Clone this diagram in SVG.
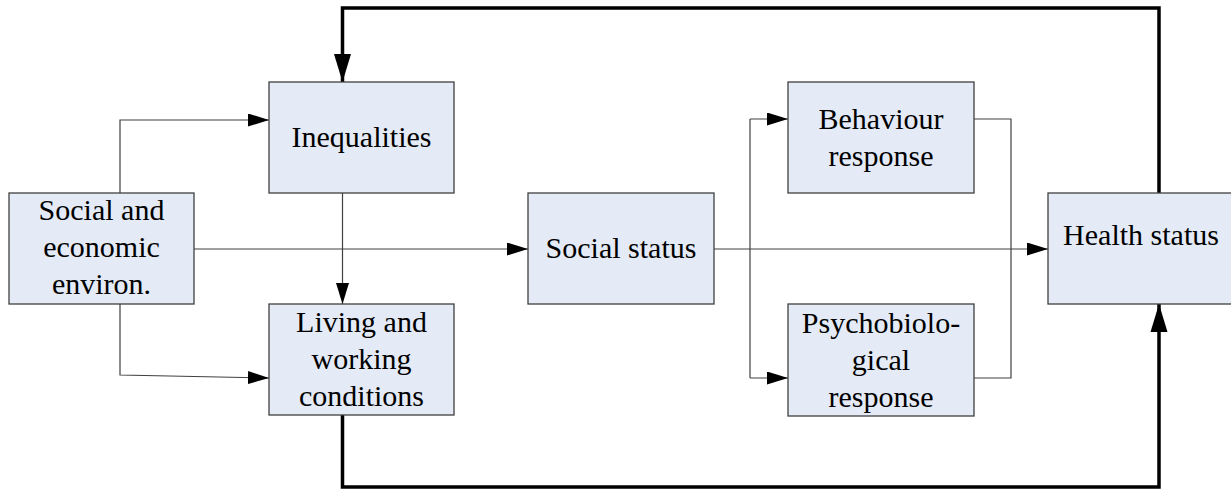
<svg xmlns="http://www.w3.org/2000/svg" width="1231" height="489" viewBox="0 0 1231 489">
<style>
.box{fill:#E4EBF6;stroke:#404040;stroke-width:1.3}
.t{font-family:'Liberation Serif',Tinos,'DejaVu Serif',serif;font-size:30px;fill:#000;text-anchor:middle}
.thin{fill:none;stroke:#404040;stroke-width:1.2}
.thick{fill:none;stroke:#000;stroke-width:3.5}
</style>
<defs>
<marker id="a" markerUnits="userSpaceOnUse" markerWidth="21" markerHeight="13" refX="21" refY="6.5" orient="auto">
<path d="M0,0 L21,6.5 L0,13 z" fill="#000"/>
</marker>
<marker id="A" markerUnits="userSpaceOnUse" markerWidth="28" markerHeight="18" refX="28" refY="9" orient="auto">
<path d="M0,0.5 L28,9 L0,17.5 z" fill="#000"/>
</marker>
</defs>
<rect width="1231" height="489" fill="#fff"/>
<g id="connectors">
<path class="thin" d="M120,193 V120 H269" marker-end="url(#a)"/>
<path class="thin" d="M120,304 V375 L269,378" marker-end="url(#a)"/>
<path class="thin" d="M194,249 H528" marker-end="url(#a)"/>
<path class="thin" d="M342.5,193 V304" marker-end="url(#a)"/>
<path class="thin" d="M714,249 H1048" marker-end="url(#a)"/>
<path class="thin" d="M750,119 V378"/>
<path class="thin" d="M750,119 H788" marker-end="url(#a)"/>
<path class="thin" d="M750,378 H788" marker-end="url(#a)"/>
<path class="thin" d="M974,119 H1011 V378 H974"/>
<path class="thick" d="M342.5,415 V487 H1159 V304" marker-end="url(#A)"/>
<path class="thick" d="M1159,193 V8 H342.5 V82" marker-end="url(#A)"/>
</g>
<g id="social-economic">
<rect class="box" x="9" y="193" width="185" height="111"/>
<text class="t" x="101.5" y="220">Social and</text>
<text class="t" x="101.5" y="257">economic</text>
<text class="t" x="101.5" y="294">environ.</text>
</g>
<g id="inequalities">
<rect class="box" x="269" y="82" width="185" height="111"/>
<text class="t" x="361.5" y="147">Inequalities</text>
</g>
<g id="living-working">
<rect class="box" x="269" y="304" width="185" height="111"/>
<text class="t" x="361.5" y="332">Living and</text>
<text class="t" x="361.5" y="369">working</text>
<text class="t" x="361.5" y="406">conditions</text>
</g>
<g id="social-status">
<rect class="box" x="528" y="193" width="186" height="111"/>
<text class="t" x="621" y="258">Social status</text>
</g>
<g id="behaviour">
<rect class="box" x="788" y="82" width="186" height="111"/>
<text class="t" x="881" y="129">Behaviour</text>
<text class="t" x="881" y="166">response</text>
</g>
<g id="psychobiological">
<rect class="box" x="788" y="304" width="186" height="112"/>
<text class="t" x="881" y="333">Psychobiolo-</text>
<text class="t" x="881" y="370">gical</text>
<text class="t" x="881" y="407">response</text>
</g>
<g id="health-status">
<rect class="box" x="1048" y="193" width="190" height="111"/>
<text class="t" x="1141" y="245">Health status</text>
</g>
</svg>
